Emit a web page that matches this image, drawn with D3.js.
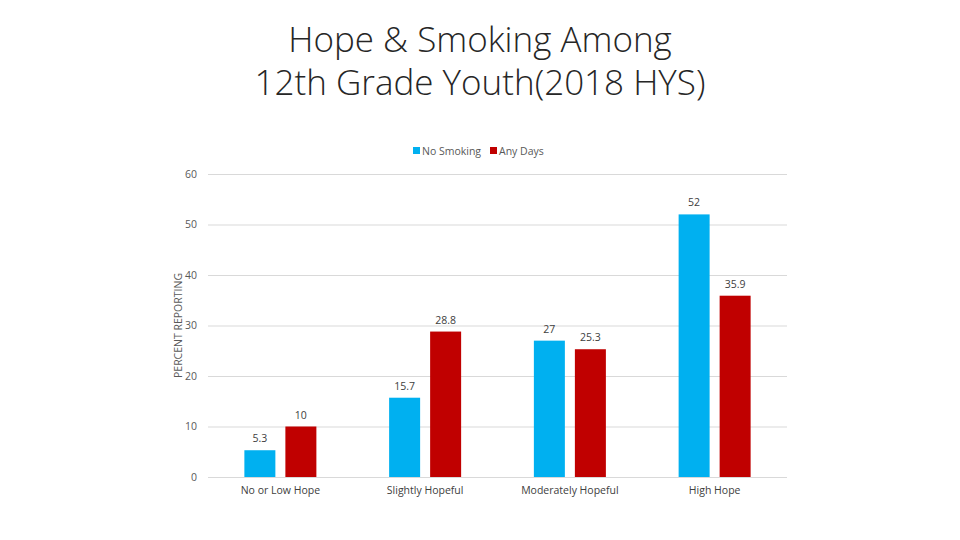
<!DOCTYPE html>
<html><head><meta charset="utf-8">
<script src="https://cdn.jsdelivr.net/npm/d3@7"></script>
<style>body{margin:0;background:#fff}svg{display:block}</style>
</head><body>
<svg id="c" width="960" height="540"></svg>
<script>
const categories = ["No or Low Hope", "Slightly Hopeful", "Moderately Hopeful", "High Hope"];
const seriesNames = ["No Smoking", "Any Days"];
const noSmoking = [5.3, 15.7, 27, 52];
const anyDays = [10, 28.8, 25.3, 35.9];
const yTicks = [0, 10, 20, 30, 40, 50, 60];
const titleLines = ["Hope & Smoking Among", "12th Grade Youth(2018 HYS)"];
const yTitle = "PERCENT REPORTING";
const colors = ["#00B0F0", "#C00000"];

(function(){
const svg = d3.select("#c");
const font = "'Open Sans', 'Liberation Sans', sans-serif";
const pL = 208, pR = 787, pT = 174, pB = 477;

const x = d3.scaleBand().domain(categories).range([pL, pR]).paddingInner(0).paddingOuter(0);
const xs = d3.scaleBand().domain(seriesNames).range([0, x.bandwidth()]).paddingInner(0.244).paddingOuter(0.887);
const y = d3.scaleLinear().domain([0, 60]).range([pB, pT]);

svg.append("g").selectAll("text").data(titleLines).join("text")
  .attr("x", 480).attr("y", (d, i) => 52 + i * 43)
  .attr("text-anchor", "middle").attr("font-family", font).attr("font-weight", 300)
  .attr("font-size", 35).attr("fill", "#262626").text(d => d);

const yAxis = d3.axisLeft(y).tickValues(yTicks).tickSize(-(pR - pL)).tickPadding(11).tickFormat(d3.format("d"));
const ga = svg.append("g").attr("transform", `translate(${pL},0)`).call(yAxis);
ga.select(".domain").remove();
ga.selectAll(".tick line").attr("stroke", "#d9d9d9").attr("stroke-width", 1);
ga.selectAll(".tick text").attr("font-family", font).attr("font-size", 10.5).attr("fill", "#595959");

const xAxis = d3.axisBottom(x).tickSize(0).tickPadding(10);
const gx = svg.append("g").attr("transform", `translate(0,${pB})`).call(xAxis);
gx.select(".domain").remove();
gx.selectAll(".tick text").attr("font-family", font).attr("font-size", 10.5).attr("fill", "#404040");

const data = categories.map((c, i) => ({c, vals: [
  {s: seriesNames[0], v: noSmoking[i], col: colors[0]},
  {s: seriesNames[1], v: anyDays[i], col: colors[1]}]}));
const g = svg.append("g").selectAll("g").data(data).join("g")
  .attr("transform", d => `translate(${x(d.c)},0)`);
g.selectAll("rect").data(d => d.vals).join("rect")
  .attr("x", d => xs(d.s)).attr("width", xs.bandwidth())
  .attr("y", d => y(d.v)).attr("height", d => y(0) - y(d.v))
  .attr("fill", d => d.col);
g.selectAll("text").data(d => d.vals).join("text")
  .attr("x", d => xs(d.s) + xs.bandwidth() / 2).attr("y", d => y(d.v) - 8)
  .attr("text-anchor", "middle").attr("font-family", font).attr("font-size", 10.5)
  .attr("fill", "#404040").text(d => d.v);

svg.append("text").attr("transform", `translate(182,${(pT + pB) / 2}) rotate(-90)`)
  .attr("text-anchor", "middle").attr("font-family", font).attr("font-size", 10.5)
  .attr("fill", "#595959").text(yTitle);

const lg = svg.append("g");
const legX = [413, 490];
seriesNames.forEach((s, i) => {
  lg.append("rect").attr("x", legX[i]).attr("y", 147).attr("width", 7).attr("height", 7).attr("fill", colors[i]);
  lg.append("text").attr("x", legX[i] + 9).attr("y", 155).attr("font-family", font).attr("font-size", 10.5)
    .attr("fill", "#595959").text(s);
});
})();
</script>
</body></html>
